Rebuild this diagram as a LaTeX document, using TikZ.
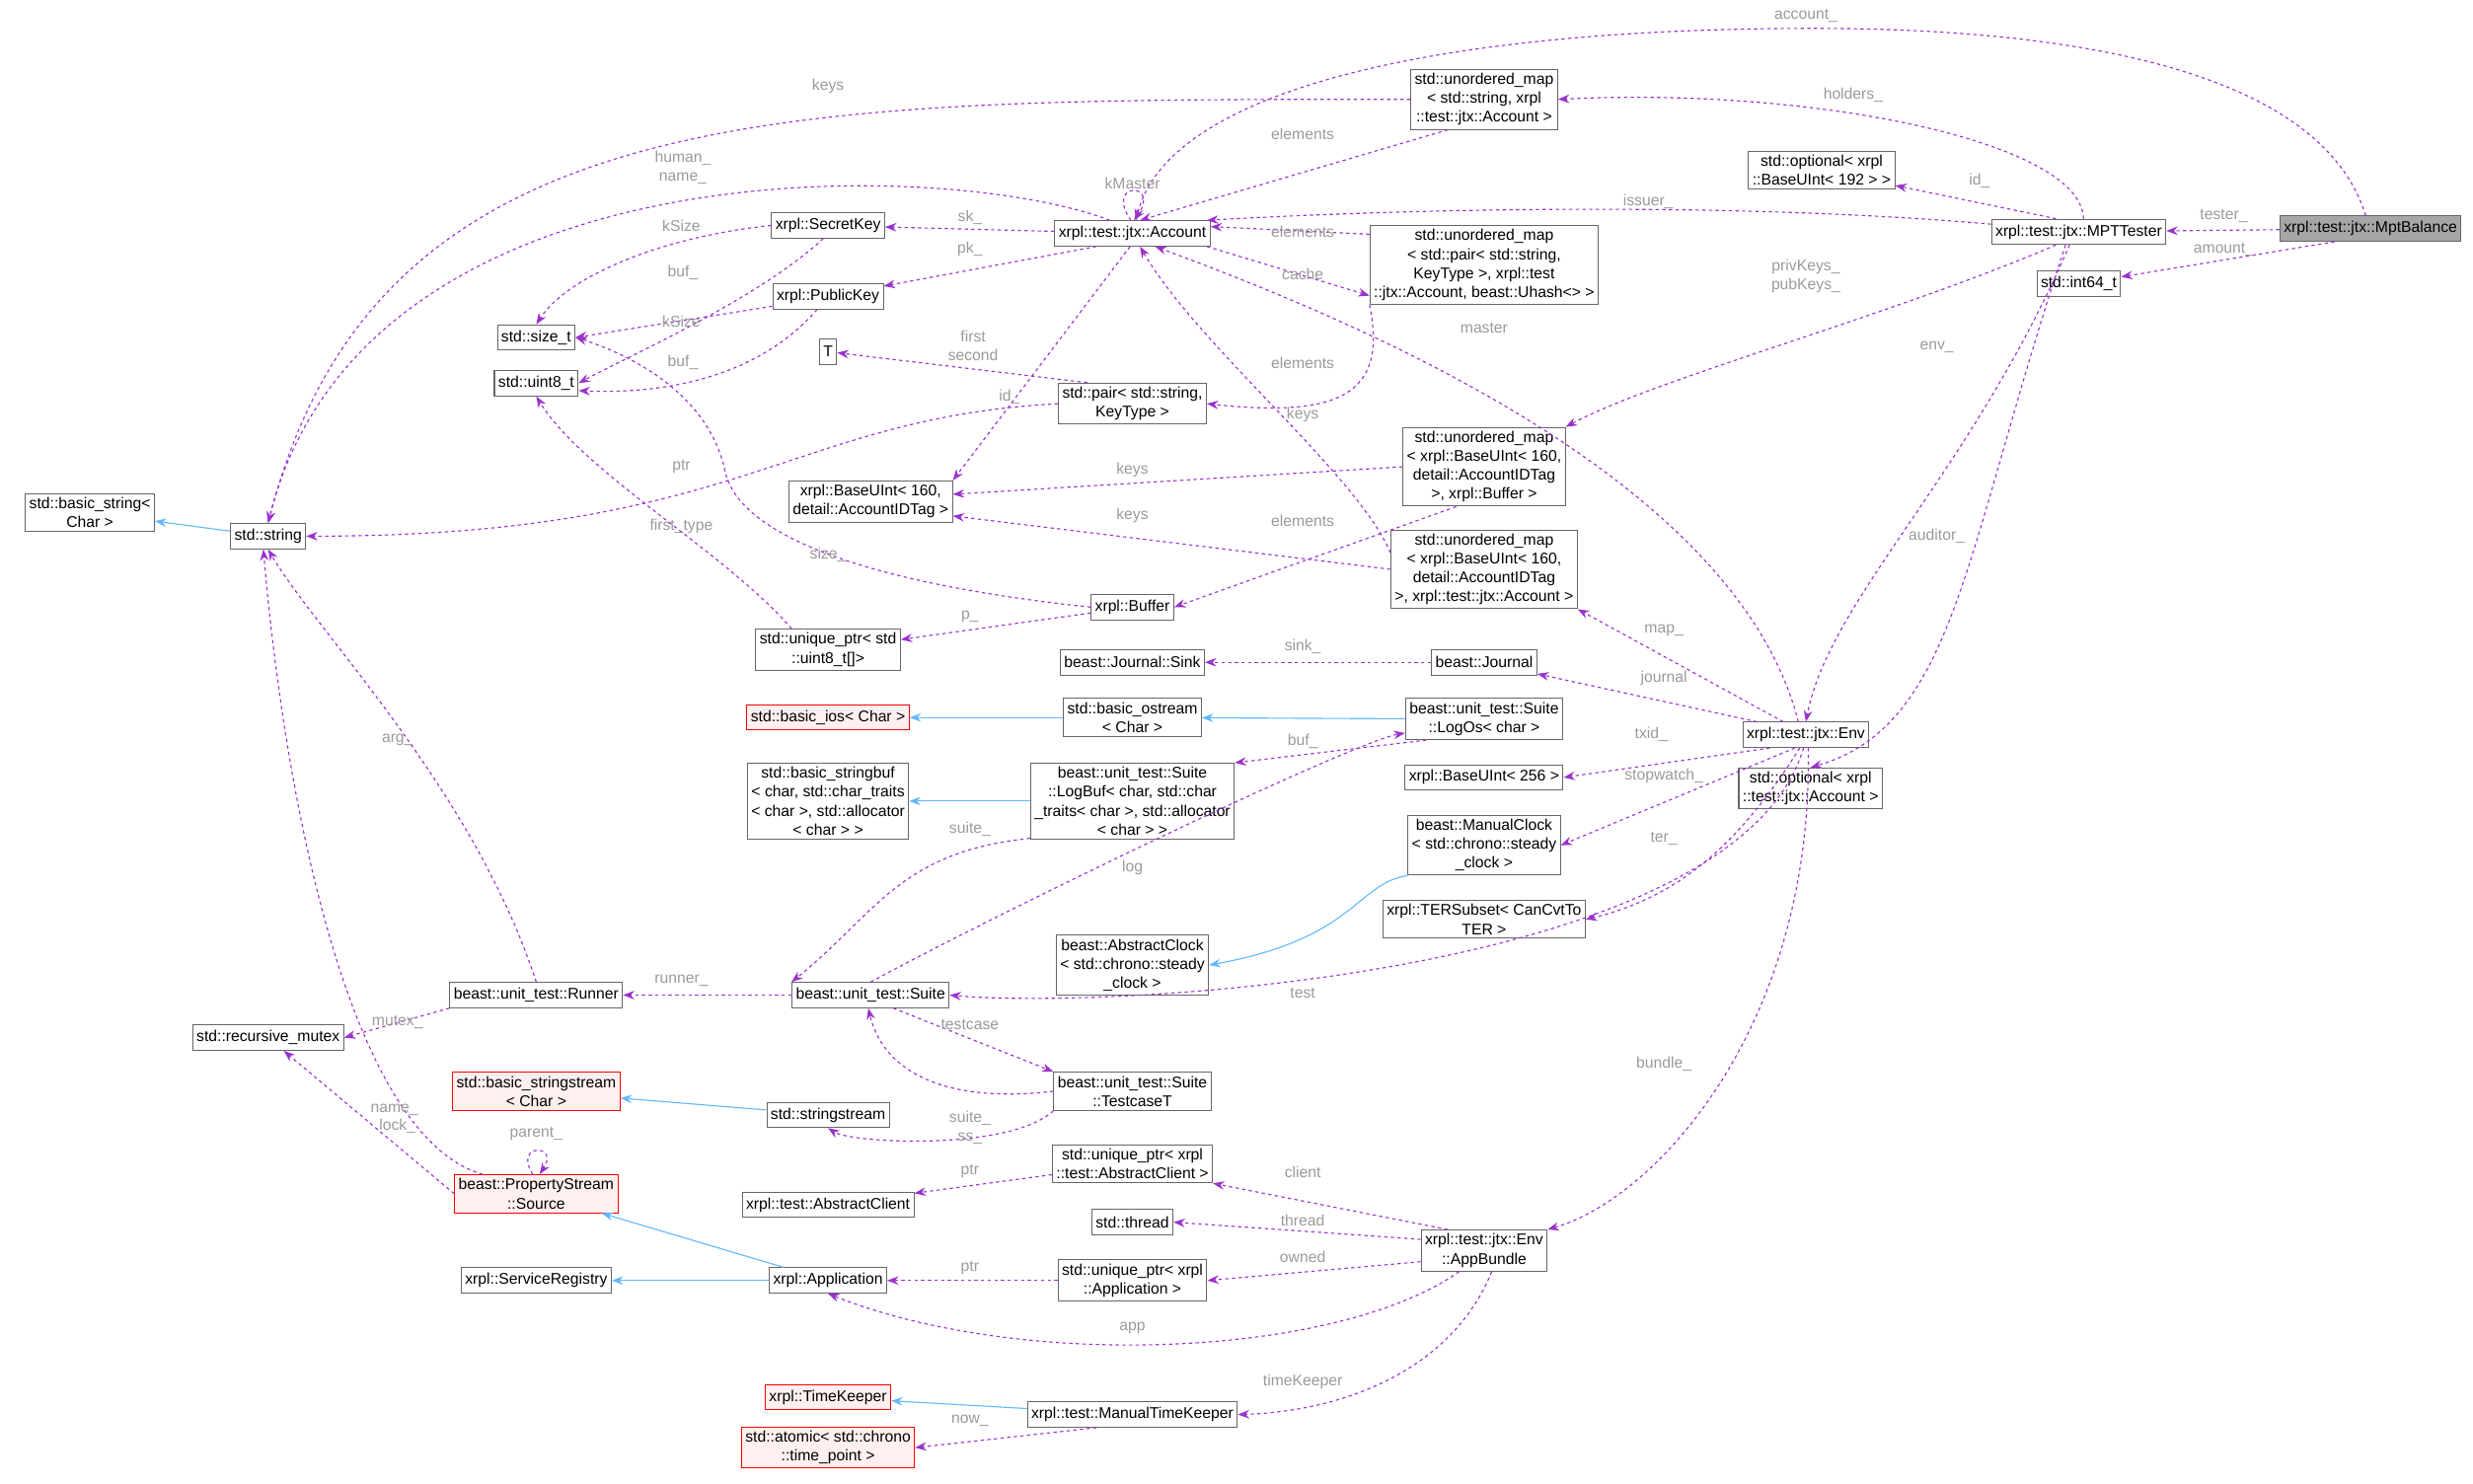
\documentclass[tikz,border=0pt]{standalone}
\usepackage{fontspec}
\setmainfont{Liberation Sans}
\usetikzlibrary{arrows.meta}
\definecolor{dep}{HTML}{9A32CD}
\definecolor{inh}{HTML}{63B8FF}
\definecolor{lblc}{HTML}{9A9A9A}
\definecolor{bord}{HTML}{666666}
\begin{document}
\begin{tikzpicture}[x=0.5mm,y=-0.5mm,
 every node/.style={font=\fontsize{14}{17}\selectfont},
 box/.style={draw=bord,line width=0.9pt,fill=white,align=center,inner sep=3.5pt,minimum height=8mm},
 rbox/.style={box,draw=red,fill=red!6},
 gbox/.style={box,fill=gray!70},
 dp/.style={draw=dep,dashed,line width=1pt,-{Stealth[length=3.6mm,width=2.7mm]}},
 ih/.style={draw=inh,line width=1pt,-{Stealth[length=3.6mm,width=2.7mm]}},
 lbl/.style={text=lblc,inner sep=1pt,align=center}]
\useasboundingbox (0,0) rectangle (1568,941);
\node[gbox] (mb) at (1503,145) {xrpl::test::jtx::MptBalance};
\node[box] (mpt) at (1318,147) {xrpl::test::jtx::MPTTester};
\node[box] (i64) at (1318,180) {std::int64\_t};
\node[box] (o192) at (1155,108) {std::optional< xrpl\\::BaseUInt< 192 > >};
\node[box] (um1) at (941,63) {std::unordered\_map\\< std::string, xrpl\\::test::jtx::Account >};
\node[box] (acc) at (718,148) {xrpl::test::jtx::Account};
\node[box] (um7) at (941,168) {std::unordered\_map\\< std::pair< std::string,\\ KeyType >, xrpl::test\\::jtx::Account, beast::Uhash<> >};
\node[box] (sk) at (525,143) {xrpl::SecretKey};
\node[box] (pk) at (525,188) {xrpl::PublicKey};
\node[box] (szt) at (340,214) {std::size\_t};
\node[box] (u8) at (340,243) {std::uint8\_t};
\node[box] (T) at (525,223) {T};
\node[box] (pr) at (718,256) {std::pair< std::string,\\KeyType >};
\node[box] (um14) at (941,296) {std::unordered\_map\\< xrpl::BaseUInt< 160,\\ detail::AccountIDTag\\ >, xrpl::Buffer >};
\node[box] (b160) at (552,318) {xrpl::BaseUInt< 160,\\ detail::AccountIDTag >};
\node[box] (str) at (170,340) {std::string};
\node[box] (bstr) at (57,325) {std::basic\_string<\\ Char >};
\node[box] (um18) at (941,361) {std::unordered\_map\\< xrpl::BaseUInt< 160,\\ detail::AccountIDTag\\ >, xrpl::test::jtx::Account >};
\node[box] (buf) at (718,385) {xrpl::Buffer};
\node[box] (up20) at (525,412) {std::unique\_ptr< std\\::uint8\_t[]>};
\node[box] (sink) at (718,420) {beast::Journal::Sink};
\node[box] (jr) at (941,420) {beast::Journal};
\node[box] (env) at (1145,466) {xrpl::test::jtx::Env};
\node[rbox] (bios) at (525,455) {std::basic\_ios< Char >};
\node[box] (bos) at (718,455) {std::basic\_ostream\\< Char >};
\node[box] (logos) at (941,456) {beast::unit\_test::Suite\\::LogOs< char >};
\node[box] (b256) at (941,493) {xrpl::BaseUInt< 256 >};
\node[box] (oacc) at (1148,500) {std::optional< xrpl\\::test::jtx::Account >};
\node[box] (bsb) at (525,508) {std::basic\_stringbuf\\< char, std::char\_traits\\< char >, std::allocator\\< char > >};
\node[box] (logbuf) at (718,508) {beast::unit\_test::Suite\\::LogBuf< char, std::char\\\_traits< char >, std::allocator\\< char > >};
\node[box] (mc) at (941,536) {beast::ManualClock\\< std::chrono::steady\\\_clock >};
\node[box] (ter) at (941,583) {xrpl::TERSubset< CanCvtTo\\TER >};
\node[box] (ac) at (718,612) {beast::AbstractClock\\< std::chrono::steady\\\_clock >};
\node[box] (run) at (340,631) {beast::unit\_test::Runner};
\node[box] (suite) at (552,631) {beast::unit\_test::Suite};
\node[box] (rm) at (170,658) {std::recursive\_mutex};
\node[box] (tc) at (718,692) {beast::unit\_test::Suite\\::TestcaseT};
\node[rbox] (bss) at (340,692) {std::basic\_stringstream\\< Char >};
\node[box] (ss) at (525,707) {std::stringstream};
\node[rbox] (src) at (340,757) {beast::PropertyStream\\::Source};
\node[box] (up41) at (718,738) {std::unique\_ptr< xrpl\\::test::AbstractClient >};
\node[box] (acl) at (525,764) {xrpl::test::AbstractClient};
\node[box] (thr) at (718,775) {std::thread};
\node[box] (ab) at (941,793) {xrpl::test::jtx::Env\\::AppBundle};
\node[box] (up45) at (718,812) {std::unique\_ptr< xrpl\\::Application >};
\node[box] (sr) at (340,812) {xrpl::ServiceRegistry};
\node[box] (app) at (525,812) {xrpl::Application};
\node[rbox] (tk) at (525,886) {xrpl::TimeKeeper};
\node[box] (mtk) at (718,897) {xrpl::test::ManualTimeKeeper};
\node[rbox] (at) at (525,918) {std::atomic< std::chrono\\::time\_point >};
% inheritance
\draw[ih] (str) -- (bstr);
\draw[ih] (bos) -- (bios);
\draw[ih] (logos) -- (bos);
\draw[ih] (logbuf) -- (bsb);
\draw[ih] (mc.south west) .. controls (860,560) and (860,595) .. (ac.east);
\draw[ih] (ss) -- (bss);
\draw[ih] (app) -- (src);
\draw[ih] (app) -- (sr);
\draw[ih] (mtk) -- (tk);
% dependencies
\draw[dp] (mb.110) .. controls (1470,40) and (1300,18) .. (1150,18) .. controls (900,18) and (740,60) .. (acc.75);
\node[lbl] at (1145,10) {account\_};
\draw[dp] (mb) -- (mpt); \node[lbl] at (1410,137) {tester\_};
\draw[dp] (mb.200) -- (i64); \node[lbl] at (1410,158) {amount\_};
\draw[dp] (mpt.150) -- (o192); \node[lbl] at (1255,115) {id\_};
\draw[dp] (mpt.70) .. controls (1320,90) and (1150,55) .. (um1.east); \node[lbl] at (1175,60) {holders\_};
\draw[dp] (mpt.175) .. controls (1100,128) and (900,132) .. (acc.10); \node[lbl] at (1045,128) {issuer\_};
\draw[dp] (mpt.210) .. controls (1200,200) and (1050,240) .. (um14.north east); \node[lbl] at (1145,175) {privKeys\_\\pubKeys\_};
\draw[dp] (mpt.235) .. controls (1250,300) and (1160,380) .. (env.north); \node[lbl] at (1228,220) {env\_};
\draw[dp] (mpt.225) .. controls (1245,350) and (1240,460) .. (oacc.north); \node[lbl] at (1228,340) {auditor\_};
\draw[dp] (um1.220) -- (acc.60); \node[lbl] at (826,85) {elements};
\draw[dp] (um1.west) .. controls (500,63) and (240,60) .. (str.north); \node[lbl] at (525,55) {keys};
\draw[dp] (acc.97) .. controls (700,115) and (736,115) .. (acc.83); \node[lbl] at (718,116) {kMaster};
\draw[dp] (acc.150) .. controls (600,100) and (230,90) .. (str.north); \node[lbl] at (433,106) {human\_\\name\_};
\draw[dp] (acc) -- (sk); \node[lbl] at (615,138) {sk\_};
\draw[dp] (acc.200) -- (pk); \node[lbl] at (615,158) {pk\_};
\draw[dp] (acc.260) -- (b160.north east); \node[lbl] at (640,252) {id\_};
\draw[dp] (um7.165) -- (acc.5); \node[lbl] at (826,147) {elements};
\draw[dp] (acc.350) -- (um7.195); \node[lbl] at (826,174) {cache};
\draw[dp] (um7.south west) .. controls (880,250) and (850,265) .. (pr.east); \node[lbl] at (826,263) {keys};
\draw[dp] (sk.west) .. controls (420,150) and (360,175) .. (szt.north); \node[lbl] at (432,143) {kSize};
\draw[dp] (sk.250) .. controls (480,190) and (400,225) .. (u8.east); \node[lbl] at (433,173) {buf\_};
\draw[dp] (pk.190) -- (szt.east); \node[lbl] at (432,204) {kSize};
\draw[dp] (pk.230) .. controls (480,240) and (420,250) .. (u8.350); \node[lbl] at (433,230) {buf\_};
\draw[dp] (pr.155) -- (T); \node[lbl] at (617,219) {first\\second};
\draw[dp] (pr.west) .. controls (500,265) and (470,340) .. (str.east); \node[lbl] at (432,334) {first\_type};
\draw[dp] (um14.west) -- (b160.5); \node[lbl] at (718,298) {keys};
\draw[dp] (um14.235) -- (buf.east); \node[lbl] at (826,330) {elements};
\draw[dp] (um18.west) -- (b160.350); \node[lbl] at (718,327) {keys};
\draw[dp] (um18.170) .. controls (860,300) and (760,220) .. (acc.300); \node[lbl] at (826,230) {elements};
\draw[dp] (buf.west) .. controls (550,370) and (470,340) .. (460,300) .. controls (450,250) and (400,225) .. (szt.east); \node[lbl] at (525,352) {size\_};
\draw[dp] (buf) -- (up20); \node[lbl] at (615,391) {p\_};
\draw[dp] (up20.150) .. controls (460,350) and (370,300) .. (u8.south); \node[lbl] at (432,296) {ptr};
\draw[dp] (jr) -- (sink); \node[lbl] at (826,410) {sink\_};
\draw[dp] (env.120) .. controls (1100,300) and (850,200) .. (acc.330); \node[lbl] at (941,208) {master};
\draw[dp] (env.150) -- (um18.south east); \node[lbl] at (1055,400) {map\_};
\draw[dp] (env.165) -- (jr); \node[lbl] at (1055,430) {journal};
\draw[dp] (env.200) -- (b256.east); \node[lbl] at (1047,466) {txid\_};
\draw[dp] (env.230) -- (mc.east); \node[lbl] at (1055,492) {stopwatch\_};
\draw[dp] (env.245) .. controls (1100,540) and (1060,570) .. (ter.east); \node[lbl] at (1055,532) {ter\_};
\draw[dp] (env.260) .. controls (1100,620) and (700,640) .. (suite.east); \node[lbl] at (826,630) {test};
\draw[dp] (env.280) .. controls (1150,650) and (1050,760) .. (ab.north east); \node[lbl] at (1055,675) {bundle\_};
\draw[dp] (logos.200) -- (logbuf.north east); \node[lbl] at (826,470) {buf\_};
\draw[dp] (suite.north) .. controls (650,570) and (860,470) .. (logos.190); \node[lbl] at (718,550) {log};
\draw[dp] (logbuf.200) .. controls (570,540) and (555,580) .. (suite.north west); \node[lbl] at (615,526) {suite\_};
\draw[dp] (run.north) .. controls (300,500) and (200,400) .. (str.south); \node[lbl] at (252,469) {arg\_};
\draw[dp] (run.south west) -- (rm.east); \node[lbl] at (252,648) {mutex\_};
\draw[dp] (suite) -- (run); \node[lbl] at (432,622) {runner\_};
\draw[dp] (suite.330) -- (tc.north west); \node[lbl] at (615,650) {testcase};
\draw[dp] (tc.west) .. controls (600,700) and (560,680) .. (suite.260); \node[lbl] at (615,709) {suite\_};
\draw[dp] (tc.south west) .. controls (640,730) and (540,725) .. (ss.south); \node[lbl] at (615,722) {ss\_};
\draw[dp] (src.160) .. controls (220,720) and (180,500) .. (str.250); \node[lbl] at (250,704) {name\_};
\draw[dp] (src.west) -- (rm); \node[lbl] at (252,714) {lock\_};
\draw[dp] (src.100) .. controls (325,725) and (355,725) .. (src.80); \node[lbl] at (340,719) {parent\_};
\draw[dp] (up41) -- (acl); \node[lbl] at (615,743) {ptr};
\draw[dp] (ab.150) -- (up41.south east); \node[lbl] at (826,743) {client};
\draw[dp] (ab.170) -- (thr.east); \node[lbl] at (826,774) {thread};
\draw[dp] (ab.190) -- (up45.east); \node[lbl] at (826,797) {owned};
\draw[dp] (ab.220) .. controls (850,860) and (650,870) .. (app.south); \node[lbl] at (718,842) {app};
\draw[dp] (ab.290) .. controls (920,870) and (850,895) .. (mtk.east); \node[lbl] at (826,876) {timeKeeper};
\draw[dp] (up45) -- (app); \node[lbl] at (615,804) {ptr};
\draw[dp] (mtk.200) -- (at.east); \node[lbl] at (615,901) {now\_};
\end{tikzpicture}
\end{document}
